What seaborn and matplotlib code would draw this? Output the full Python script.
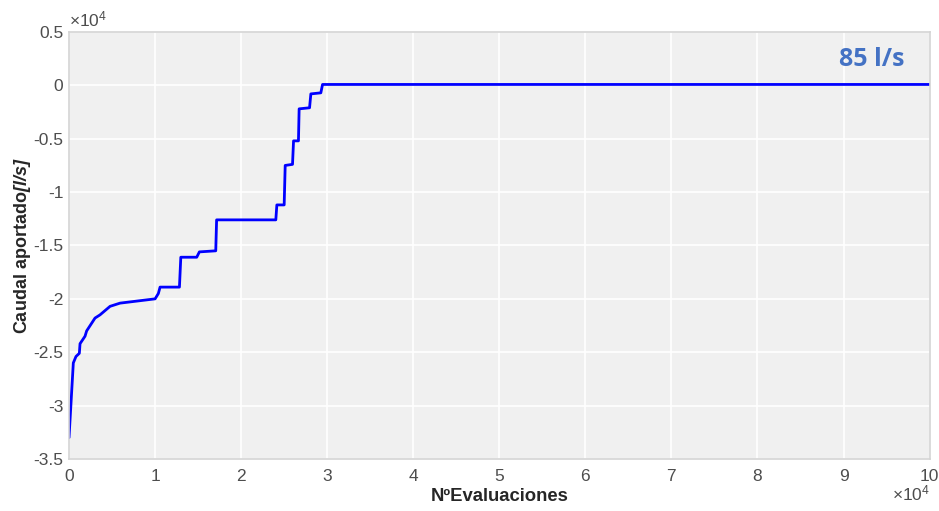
import matplotlib
matplotlib.use("Agg")
import matplotlib.pyplot as plt
import seaborn as sns
import pandas as pd
from matplotlib.ticker import FuncFormatter, MultipleLocator

# Convergence history: evaluations vs. contributed flow
evals = [0, 500, 810, 1200, 1280, 1860, 2050, 3020, 3600, 4770, 5930, 10000,
         10380, 10580, 12830, 12990, 14840, 15150, 17050, 17150, 24030, 24150,
         25000, 25120, 25970, 26090, 26660, 26740, 27950, 28100, 29260, 29460,
         100000]
caudal = [-33000, -26000, -25400, -25100, -24200, -23500, -23000, -21800,
          -21500, -20700, -20400, -20000, -19500, -18900, -18900, -16100,
          -16100, -15600, -15500, -12600, -12600, -11200, -11200, -7500,
          -7400, -5200, -5200, -2200, -2100, -800, -700, 85, 85]
final_label = "85 l/s"

df = pd.DataFrame({"evals": evals, "caudal": caudal})

sns.set_theme(style="whitegrid")
plt.rcParams.update({
    "font.family": ["Liberation Sans", "DejaVu Sans"],
    "axes.unicode_minus": False,
    "mathtext.fontset": "custom",
    "mathtext.rm": "Liberation Sans",
    "mathtext.it": "Liberation Sans:italic",
    "mathtext.bf": "Liberation Sans:bold",
    "mathtext.bfit": "Liberation Sans:italic:bold",
})

fig = plt.figure(figsize=(9.39, 5.11), dpi=100)
ax = fig.add_axes([0.0735, 0.1018, 0.9165, 0.8356])
ax.set_facecolor("#f0f0f0")

sns.lineplot(data=df, x="evals", y="caudal", ax=ax, color="#0000ff",
             linewidth=2, sort=False, estimator=None)

ax.set_xlim(0, 100000)
ax.set_ylim(-35000, 5000)
ax.xaxis.set_major_locator(MultipleLocator(10000))
ax.yaxis.set_major_locator(MultipleLocator(5000))

def scaled(v, pos):
    s = f"{v / 1e4:.1f}"
    if s.endswith(".0"):
        s = s[:-2]
    if s == "-0":
        s = "0"
    return s

ax.xaxis.set_major_formatter(FuncFormatter(scaled))
ax.yaxis.set_major_formatter(FuncFormatter(scaled))
ax.tick_params(axis="both", colors="#4d4d4d", labelsize=12.5, length=0)
ax.tick_params(axis="x", pad=7)
ax.tick_params(axis="y", pad=4)

ax.grid(True, color="white", linewidth=1.2)
for sp in ax.spines.values():
    sp.set_color("#d4d4d4")
    sp.set_linewidth(1.2)

ax.set_xlabel("NºEvaluaciones", fontsize=13.3, fontweight="bold", labelpad=3)
ax.set_ylabel(r"Caudal aportado$\mathbfit{[l/s]}$", fontsize=13,
              fontweight="bold", labelpad=0)

ax.text(0.0, 1.005, r"$\times$10$^4$", transform=ax.transAxes, fontsize=12.5,
        color="#4d4d4d", ha="left", va="bottom")
ax.text(1.0, -0.058, r"$\times$10$^4$", transform=ax.transAxes, fontsize=12.5,
        color="#4d4d4d", ha="right", va="top")

ax.text(0.971, 0.935, final_label, transform=ax.transAxes, fontsize=18,
        fontweight="bold", color="#4472c4", ha="right", va="center",
        family=["Open Sans", "DejaVu Sans"])

fig.savefig("out.png", dpi=100, facecolor="white")
